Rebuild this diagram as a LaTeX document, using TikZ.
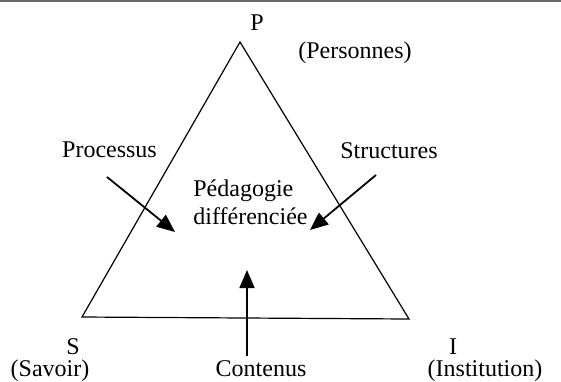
\documentclass[tikz,border=0pt]{standalone}
\usepackage{fontspec}
\setmainfont{Liberation Serif}
\usepackage{tikz}
\usetikzlibrary{arrows.meta,positioning}
\definecolor{rulegray}{RGB}{105,105,105}

\begin{document}
\begin{tikzpicture}[
  x=0.5pt, y=-0.5pt,
  lbl/.style={inner sep=0pt, anchor=base, font=\fontsize{12}{14}\selectfont},
  side/.style={line width=0.6pt, line join=miter},
  arr/.style={-{Triangle[length=9pt, width=7.5pt]}, line width=0.9pt}
]
\useasboundingbox (0,0) rectangle (561,381);
\draw[rulegray, line width=1pt] (0,1) -- (561,1);

% sommets du triangle
\coordinate (vp) at (240,42);
\coordinate (vs) at (82,317);
\coordinate (vi) at (409,319);
\draw[side] (vp) -- (vs) -- (vi) -- cycle;

\node[lbl] (p) at (257,30) {P};
\node[lbl] (pers) at (355,58) {(Personnes)};
\node[lbl] (s) at (73,354) {S};
\node[lbl] (sav) at (50,376) {(Savoir)};
\node[lbl] (i) at (453,354) {I};
\node[lbl] (inst) at (485,376) {(Institution)};

\node[lbl] (proc) at (109.5,157) {Processus};
\node[lbl] (struc) at (389,158) {Structures};
\node[lbl] (cont) at (261,376) {Contenus};
\node[lbl, anchor=base west, align=left] (peda) at (193,224) {Pédagogie\\différenciée};

% fleches vers le centre
\coordinate (procA) at (107,177);
\coordinate (procB) at (175,232);
\coordinate (strucA) at (376,175);
\coordinate (strucB) at (310,230);
\coordinate (contA) at (247,356);
\coordinate (contB) at (247,270);
\draw[arr] (procA) -- (procB);
\draw[arr] (strucA) -- (strucB);
\draw[arr] (contA) -- (contB);
\end{tikzpicture}
\end{document}
